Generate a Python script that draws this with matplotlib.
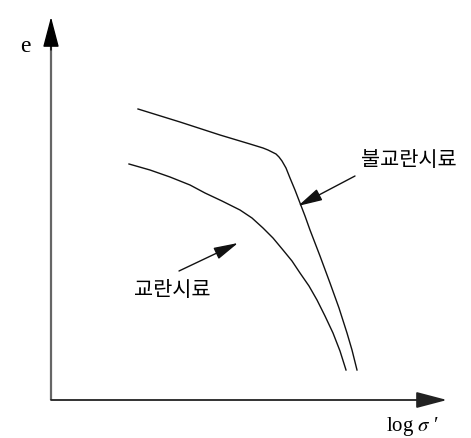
import matplotlib
matplotlib.use("Agg")
import matplotlib.pyplot as plt

# e - log(sigma') curves, arbitrary units (origin at the axis corner)
undisturbed_x = [0.87, 1.29, 1.69, 1.99, 2.12, 2.17, 2.21, 2.25, 2.28, 2.31, 2.35, 2.39, 2.44,
                 2.49, 2.54, 2.59, 2.69, 2.79, 2.88, 2.96, 3.01, 3.06]
undisturbed_e = [2.91, 2.78, 2.65, 2.56, 2.52, 2.50, 2.48, 2.46, 2.43, 2.39, 2.32, 2.22, 2.10,
                 1.97, 1.84, 1.70, 1.44, 1.17, 0.92, 0.67, 0.50, 0.30]

disturbed_x = [0.78, 0.99, 1.19, 1.39, 1.54, 1.71, 1.89, 2.01, 2.12, 2.22, 2.32, 2.41, 2.49,
               2.58, 2.66, 2.74, 2.82, 2.89, 2.95]
disturbed_e = [2.36, 2.30, 2.23, 2.15, 2.07, 1.99, 1.90, 1.82, 1.72, 1.62, 1.50, 1.39, 1.27,
               1.14, 1.00, 0.84, 0.67, 0.49, 0.30]

label_undisturbed = "불교란시료"
label_disturbed = "교란시료"
xlabel = "log $\\sigma$ \u2032"
ylabel = "e"

KR = ["Noto Sans CJK KR", "DejaVu Sans"]
SERIF = ["Liberation Serif", "DejaVu Serif"]

fig = plt.figure(figsize=(4.71, 4.38), dpi=100)
ax = fig.add_axes([0, 0, 1, 1])
ax.set_xlim(-0.51, 4.20)
ax.set_ylim(-0.38, 4.00)
ax.axis("off")

# axes: y shaft is grey, heads black
head = "-|>,head_length=19,head_width=5"
ax.plot([0, 0], [0, 3.60], color="#666666", lw=1.6, solid_capstyle="butt")
ax.annotate("", xy=(0, 3.83), xytext=(0, 3.50),
            arrowprops=dict(arrowstyle=head, mutation_scale=1, color="black", lw=1.0,
                            shrinkA=0, shrinkB=0))
ax.annotate("", xy=(3.96, 0), xytext=(0, 0),
            arrowprops=dict(arrowstyle=head, mutation_scale=1, color="#222222", lw=1.3,
                            shrinkA=0, shrinkB=0))

ax.plot(undisturbed_x, undisturbed_e, color="#111111", lw=1.0, solid_joinstyle="round")
ax.plot(disturbed_x, disturbed_e, color="#111111", lw=1.0, solid_joinstyle="round")

# callouts
call_kw = dict(arrowstyle="-|>,head_length=15,head_width=3.8", mutation_scale=1,
               color="#111111", lw=1.0, shrinkA=0, shrinkB=0)
ax.annotate("", xy=(2.47, 1.94), xytext=(3.04, 2.24), arrowprops=call_kw)
ax.annotate("", xy=(1.87, 1.57), xytext=(1.28, 1.29), arrowprops=call_kw)

ax.text(3.58, 2.40, label_undisturbed, family=KR, fontsize=15, ha="center", va="center")
ax.text(1.21, 1.10, label_disturbed, family=KR, fontsize=15, ha="center", va="center")

ax.text(-0.26, 3.53, ylabel, family=SERIF, fontsize=17, ha="center", va="center")
ax.text(3.62, -0.27, xlabel, family=SERIF, fontsize=15, ha="center", va="center",
        math_fontfamily="stix")

fig.savefig("out.png", dpi=100)
